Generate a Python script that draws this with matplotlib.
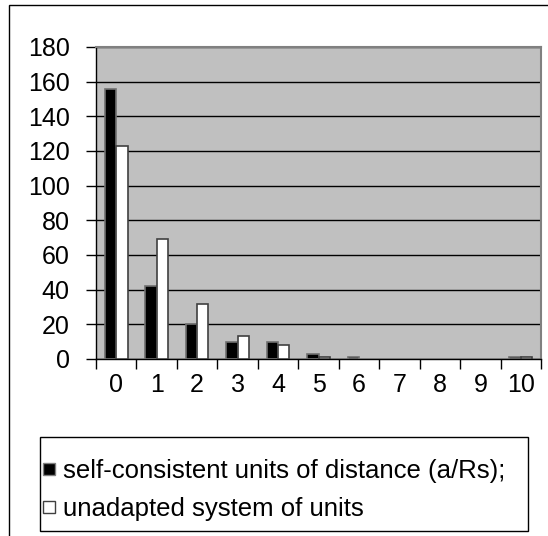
import matplotlib
matplotlib.use("Agg")
import matplotlib.pyplot as plt
import numpy as np
from matplotlib.patches import Rectangle
from matplotlib.lines import Line2D

categories = ["0", "1", "2", "3", "4", "5", "6", "7", "8", "9", "10"]
self_consistent = [156, 42, 20, 10, 10, 3, 1, 0, 0, 0, 1]
unadapted = [123, 69, 32, 13, 8, 1, 0, 0, 0, 0, 1]
series_labels = ["self-consistent units of distance (a/Rs);", "unadapted system of units"]
y_ticks = [0, 20, 40, 60, 80, 100, 120, 140, 160, 180]

plt.rcParams['font.family'] = ['Liberation Sans', 'DejaVu Sans']

W, H = 548, 536
fig = plt.figure(figsize=(W / 100, H / 100), dpi=100)

# outer chart border (cut off at right/bottom)
fig.patches.append(Rectangle((9 / W, -0.1), 1.2, 1 - 5 / H + 0.1, transform=fig.transFigure,
                             fill=False, edgecolor='black', linewidth=1.0))

ax = fig.add_axes([96 / W, 1 - 359 / H, (541 - 96) / W, (359 - 47) / H])
ax.set_facecolor('#C0C0C0')

x = np.arange(len(categories))
bw = 0.28
lw1 = [1.2 if v > 0 else 0 for v in self_consistent]
lw2 = [1.2 if v > 0 else 0 for v in unadapted]
ax.bar(x - bw / 2, self_consistent, bw, color='black', edgecolor='#707070', linewidth=lw1, zorder=3)
ax.bar(x + bw / 2, unadapted, bw, color='white', edgecolor='#404040', linewidth=lw2, zorder=3)

ax.set_xlim(-0.5, len(categories) - 0.5)
ax.set_ylim(0, 180)
ax.set_yticks(y_ticks)
ax.set_yticklabels([str(v) for v in y_ticks], fontsize=18)
ax.yaxis.grid(True, color='black', linewidth=1.0, zorder=1)
ax.set_axisbelow(True)

ax.set_xticks(x)
ax.set_xticklabels(categories, fontsize=18)
ax.tick_params(axis='x', which='major', length=0, pad=10)
ax.set_xticks(np.arange(len(categories) + 1) - 0.5, minor=True)
ax.tick_params(axis='x', which='minor', length=7, width=1.0, color='black')
ax.tick_params(axis='y', length=7, width=1.0, pad=12)

for s in ['top', 'right']:
    ax.spines[s].set_color('#808080')
    ax.spines[s].set_linewidth(1.5)
for s in ['left', 'bottom']:
    ax.spines[s].set_color('black')
    ax.spines[s].set_linewidth(1.0)

# legend frame
lx0, lx1, ly0, ly1 = 40, 528, 437, 531
fig.patches.append(Rectangle((lx0 / W, 1 - ly1 / H), (lx1 - lx0) / W, (ly1 - ly0) / H,
                             transform=fig.transFigure, facecolor='white',
                             edgecolor='black', linewidth=1.0, zorder=0))

handles = [Line2D([], [], linestyle='none', marker='s', markersize=8.3,
                  markerfacecolor='black', markeredgecolor='#808080', markeredgewidth=1.0),
           Line2D([], [], linestyle='none', marker='s', markersize=8.3,
                  markerfacecolor='white', markeredgecolor='#404040', markeredgewidth=1.0)]
leg = fig.legend(handles, series_labels, loc='center left',
                 bbox_to_anchor=(42 / W, 1 - ((ly0 + ly1) / 2 + 6) / H),
                 fontsize=18.5, frameon=False,
                 handlelength=0.55, handletextpad=0.25, borderpad=0.0,
                 labelspacing=0.55, borderaxespad=0)

fig.savefig("out.png", dpi=100)
